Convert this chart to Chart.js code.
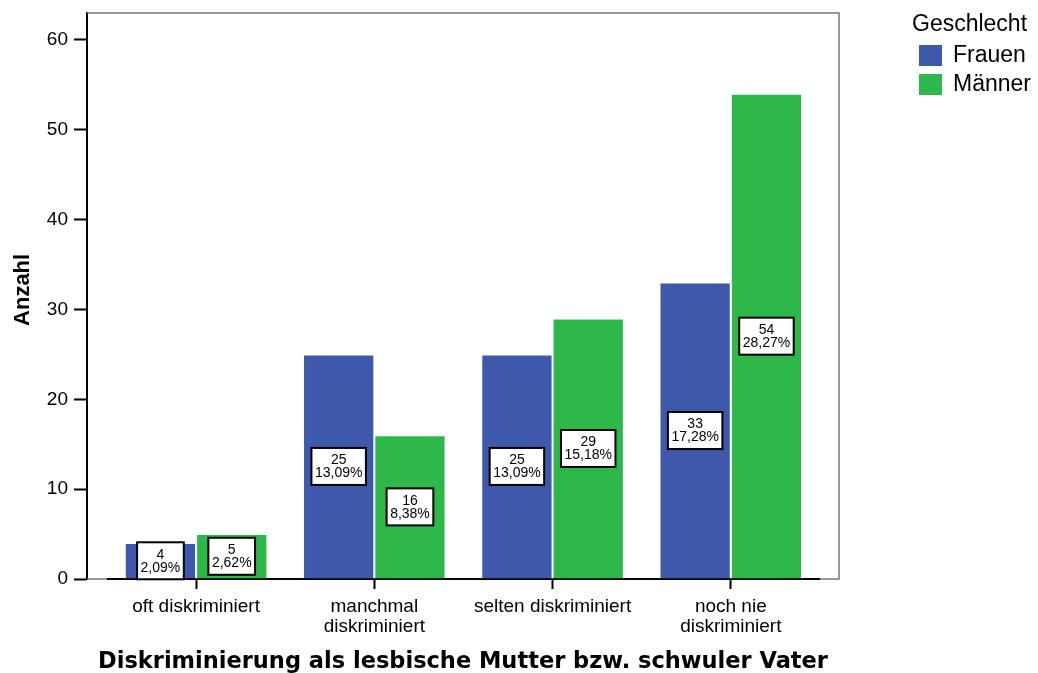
<!DOCTYPE html>
<html>
<head>
<meta charset="utf-8">
<script src="https://cdn.jsdelivr.net/npm/chart.js@4/dist/chart.umd.min.js"></script>
<style>
  body { margin: 0; background: #fff; }
  #wrap { width: 1038px; height: 673px; }
</style>
</head>
<body>
<div id="wrap"><canvas id="canvasChart" width="1038" height="673"></canvas></div>
<script>
const categories = [
    'oft diskriminiert',
    ['manchmal', 'diskriminiert'],
    'selten diskriminiert',
    ['noch nie', 'diskriminiert']
];
const frauenValues = [4, 25, 25, 33];
const maennerValues = [5, 16, 29, 54];
const frauenPercent = ['2,09%', '13,09%', '13,09%', '17,28%'];
const maennerPercent = ['2,62%', '8,38%', '15,18%', '28,27%'];
const yTicks = [0, 10, 20, 30, 40, 50, 60];

const sans = '"Liberation Sans", Arial, sans-serif';
Chart.defaults.font.family = sans;
Chart.defaults.color = '#000';

// boxes with count and percent in the middle of each bar
const barLabels = {
    id: 'barLabels',
    afterDatasetsDraw(chart) {
        const ctx = chart.ctx;
        ctx.save();
        ctx.font = '14px ' + sans;
        ctx.textAlign = 'center';
        ctx.textBaseline = 'middle';
        chart.data.datasets.forEach((ds, i) => {
            chart.getDatasetMeta(i).data.forEach((bar, j) => {
                const lines = [String(ds.data[j]), ds.percent[j]];
                const w = Math.max(...lines.map(t => ctx.measureText(t).width)) + 7;
                const h = 37;
                const cy = (bar.y + bar.base) / 2;
                ctx.fillStyle = '#fff';
                ctx.fillRect(bar.x - w / 2, cy - h / 2, w, h);
                ctx.strokeStyle = '#000';
                ctx.lineWidth = 2;
                ctx.strokeRect(bar.x - w / 2, cy - h / 2, w, h);
                ctx.fillStyle = '#000';
                ctx.fillText(lines[0], bar.x, cy - 6);
                ctx.fillText(lines[1], bar.x, cy + 7);
            });
        });
        ctx.restore();
    }
};

// grey frame and black baseline under the bars
const frame = {
    id: 'frame',
    beforeDatasetsDraw(chart) {
        const {ctx, chartArea: a, scales: {x}} = chart;
        ctx.save();
        ctx.strokeStyle = '#777';
        ctx.lineWidth = 1.5;
        ctx.beginPath();
        ctx.moveTo(a.left, a.top);
        ctx.lineTo(a.right, a.top);
        ctx.lineTo(a.right, a.bottom);
        ctx.lineTo(a.left, a.bottom);
        ctx.stroke();
        ctx.strokeStyle = '#000';
        ctx.lineWidth = 2;
        ctx.beginPath();
        ctx.moveTo(x.getPixelForValue(-0.5), a.bottom);
        ctx.lineTo(x.getPixelForValue(categories.length - 0.5), a.bottom);
        ctx.stroke();
        ctx.restore();
    }
};

const sideLegend = {
    id: 'sideLegend',
    afterDraw(chart) {
        const ctx = chart.ctx;
        ctx.save();
        ctx.font = '23px ' + sans;
        ctx.textBaseline = 'middle';
        ctx.textAlign = 'left';
        ctx.fillStyle = '#000';
        ctx.fillText('Geschlecht', 912, 25);
        chart.data.datasets.forEach((ds, i) => {
            const y = 56 + i * 29;
            ctx.fillStyle = ds.backgroundColor;
            ctx.fillRect(919, y - 11, 23, 21);
            ctx.fillStyle = '#000';
            ctx.fillText(ds.label, 953, y);
        });
        ctx.restore();
    }
};

const chartCanvas = document.getElementById('canvasChart');
const chart = new Chart(chartCanvas, {
    type: 'bar',
    data: {
        labels: categories,
        datasets: [{
                label: 'Frauen',
                data: frauenValues,
                percent: frauenPercent,
                backgroundColor: '#3e58ac',
                borderColor: 'rgba(255,255,255,0.85)',
                borderWidth: 1
            }, {
                label: 'Männer',
                data: maennerValues,
                percent: maennerPercent,
                backgroundColor: '#2fb84a',
                borderColor: 'rgba(255,255,255,0.85)',
                borderWidth: 1
            }]
    },
    options: {
        responsive: false,
        animation: false,
        layout: {padding: {top: 13, right: 199, left: 0, bottom: 0}},
        datasets: {bar: {categoryPercentage: 0.8, barPercentage: 1}},
        plugins: {legend: {display: false}, tooltip: {enabled: false}},
        scales: {
            x: {
                offset: true,
                border: {display: false},
                grid: {drawOnChartArea: false, offset: false, tickLength: 10, tickColor: '#000', tickWidth: 2},
                ticks: {font: {size: 19, lineHeight: 1.05}, padding: 8, maxRotation: 0, autoSkip: false},
                title: {
                    display: true,
                    text: 'Diskriminierung als lesbische Mutter bzw. schwuler Vater',
                    font: {family: '"DejaVu Sans", sans-serif', size: 22.5, weight: 'bold'},
                    padding: {top: 0, bottom: -3}
                },
                afterFit: s => { s.height = 94; s.paddingLeft = 0; s.paddingRight = 0; },
                // wider margins at both ends than the default half category
                afterBuildTicks: s => { s._startValue = -0.612; s._valueRange = 4.219; }
            },
            y: {
                min: 0,
                max: 63,
                afterBuildTicks: s => { s.ticks = yTicks.map(v => ({value: v})); },
                border: {color: '#000', width: 2},
                grid: {drawOnChartArea: false, tickLength: 13, tickColor: '#000', tickWidth: 2},
                ticks: {font: {size: 19}, padding: 6},
                title: {
                    display: true,
                    text: '  Anzahl',
                    font: {size: 22, weight: 'bold'},
                    padding: {top: 10, bottom: 0}
                },
                afterFit: s => { s.width = 87; s.paddingTop = 0; s.paddingBottom = 0; }
            }
        }
    },
    plugins: [frame, barLabels, sideLegend]
});
</script>
</body>
</html>
